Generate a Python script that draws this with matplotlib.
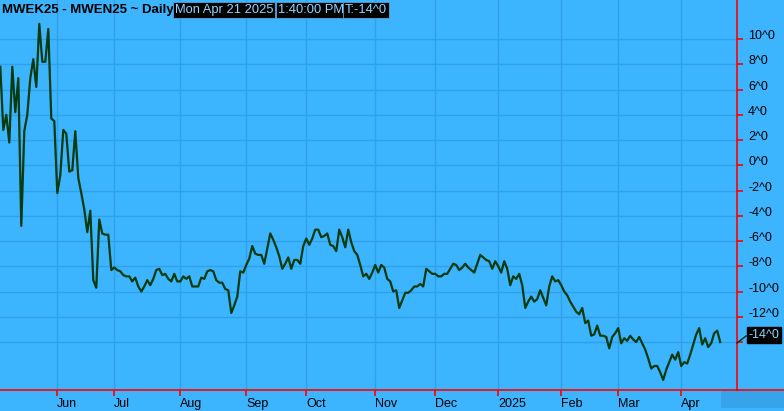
import matplotlib
matplotlib.use("Agg")
import matplotlib.pyplot as plt
from matplotlib.lines import Line2D
from matplotlib.patches import Rectangle

# spread values, one per trading day (May 2024 .. Apr 21 2025)
spread = [
    7.8, 2.8, 4.0, 1.8, 7.8, 4.2, 6.9, -4.8, 2.7, 4.0,
    6.9, 8.4, 6.2, 11.2, 8.2, 8.2, 10.8, 3.7, 3.5, -2.2,
    -0.8, 2.8, 2.5, -0.5, -0.4, 2.7, -1.0, -2.2, -3.5, -5.3,
    -3.6, -9.1, -9.7, -4.3, -5.4, -5.5, -5.5, -8.3, -8.1, -8.3,
    -8.4, -8.7, -8.8, -8.8, -9.2, -8.9, -9.6, -10.0, -9.6, -9.1,
    -9.5, -9.0, -8.3, -8.2, -8.7, -8.6, -9.0, -9.2, -8.6, -9.2,
    -9.2, -8.8, -9.0, -8.8, -9.6, -9.6, -9.6, -8.9, -9.0, -8.4,
    -8.3, -8.4, -9.1, -9.3, -9.3, -9.8, -9.9, -11.7, -11.1, -10.4,
    -8.4, -8.5, -7.9, -7.4, -6.4, -7.0, -7.1, -7.1, -7.8, -6.6,
    -5.4, -5.9, -6.5, -7.2, -8.2, -7.8, -7.3, -8.2, -7.5, -7.5,
    -7.8, -6.4, -5.8, -6.3, -5.8, -5.1, -5.1, -5.7, -5.6, -5.4,
    -6.3, -6.4, -6.8, -5.1, -5.7, -6.5, -5.1, -6.1, -6.8, -7.1,
    -7.9, -8.8, -8.6, -9.0, -8.5, -7.9, -8.5, -7.9, -8.1, -9.0,
    -9.2, -10.0, -9.9, -11.3, -10.7, -10.1, -10.1, -9.9, -9.6, -9.6,
    -9.4, -9.6, -8.2, -8.4, -8.6, -8.6, -8.8, -8.8, -8.6, -8.6,
    -8.2, -7.8, -7.9, -8.3, -8.1, -7.8, -8.1, -8.3, -8.5, -7.8,
    -7.1, -7.3, -7.5, -7.6, -8.2, -7.6, -8.0, -8.5, -7.6, -8.2,
    -9.5, -8.8, -9.0, -8.6, -9.5, -11.3, -10.8, -10.4, -10.8, -10.6,
    -9.9, -10.5, -11.1, -9.6, -8.8, -9.2, -9.1, -9.5, -10.0, -10.3,
    -10.8, -11.2, -11.6, -11.8, -11.3, -12.5, -12.3, -13.5, -13.4, -12.7,
    -13.5, -13.5, -13.6, -14.5, -13.6, -13.3, -12.9, -14.1, -13.7, -13.9,
    -13.5, -13.8, -14.0, -13.6, -14.1, -14.6, -15.3, -16.1, -15.9, -15.9,
    -16.4, -17.0, -16.2, -15.6, -15.0, -15.4, -14.8, -15.9, -15.6, -15.7,
    -15.0, -14.2, -13.4, -12.9, -14.2, -13.7, -14.4, -14.1, -13.3, -13.1,
    -14.0,
]

# first trading day of each month, as index into spread
month_labels = ["Jun", "Jul", "Aug", "Sep", "Oct", "Nov", "Dec", "2025", "Feb", "Mar", "Apr"]
month_start = [19, 38, 60, 82, 102, 125, 145, 166, 187, 206, 227]

y_ticks = list(range(-14, 11, 2))
last_label = "-14^0"

plt.rcParams["font.family"] = ["Liberation Sans", "DejaVu Sans"]

bg = "#3cb4fe"
grid_c = "#30a0e8"
W, H = 784, 411

fig = plt.figure(figsize=(W / 100, H / 100), dpi=100, facecolor=bg)
ax = fig.add_axes([0, 21 / H, 737 / W, 390 / H], facecolor=bg)

ax.plot(range(len(spread)), spread, color="#073a0c", lw=1.6, solid_joinstyle="round")

ax.set_xlim(-0.1, 245.6)
ax.set_ylim(-17.8, 13.09)

ax.set_xticks(month_start)
ax.set_xticklabels(month_labels)
ax.set_yticks(y_ticks)
ax.set_yticklabels([f"{v}^0" if v != -14 else "" for v in y_ticks])
ax.yaxis.tick_right()
ax.grid(True, color=grid_c, lw=1)
ax.set_axisbelow(True)

for s in ["left", "top"]:
    ax.spines[s].set_visible(False)
for s in ["right", "bottom"]:
    ax.spines[s].set_color("red")
    ax.spines[s].set_linewidth(1.2)

ax.tick_params(axis="both", colors="red", labelcolor="black", length=4, width=1.2,
               labelsize=9)
ax.tick_params(axis="y", pad=4)
ax.tick_params(axis="x", pad=2)
for t in ax.get_xticklabels():
    t.set_ha("left")
for t in ax.get_yticklabels():
    t.set_va("baseline")

# red bottom rule carries on under the price scale
fig.add_artist(Line2D([737 / W, 1], [1 - 390 / H, 1 - 390 / H], color="red", lw=1.2))
# dark strip bottom right
fig.add_artist(Rectangle((721 / W, 3 / H), 63 / W, 17 / H, color="#36a3ea", lw=0))

# last value box on the price scale
fig.add_artist(Line2D([737 / W, 746 / W], [1 - 343 / H, 1 - 336 / H], color="#0a2a10", lw=1))
fig.text(764 / W, 1 - 335 / H, last_label, color="#8fd6ff", fontsize=9,
         ha="center", va="center",
         bbox=dict(boxstyle="square,pad=0.15", facecolor="black", edgecolor="black"))

# header
fig.text(2 / W, 1 - 10 / H, "MWEK25 - MWEN25 ~ Daily", fontsize=9.5, fontweight="bold",
         color="black", ha="left", va="center")
box = dict(boxstyle="square,pad=0.12", facecolor="black", edgecolor="#4aa8e0", lw=0.6)
fig.text(175 / W, 1 - 10 / H, "Mon Apr 21 2025", fontsize=9.3, color="#8fd6ff",
         ha="left", va="center", bbox=box)
fig.text(278 / W, 1 - 10 / H, "1:40:00 PM", fontsize=9.3, color="#8fd6ff",
         ha="left", va="center", bbox=box)
fig.text(345 / W, 1 - 10 / H, "T:-14^0", fontsize=9.3, color="#8fd6ff",
         ha="left", va="center", bbox=box)

fig.savefig("out.png", dpi=100, facecolor=bg)
